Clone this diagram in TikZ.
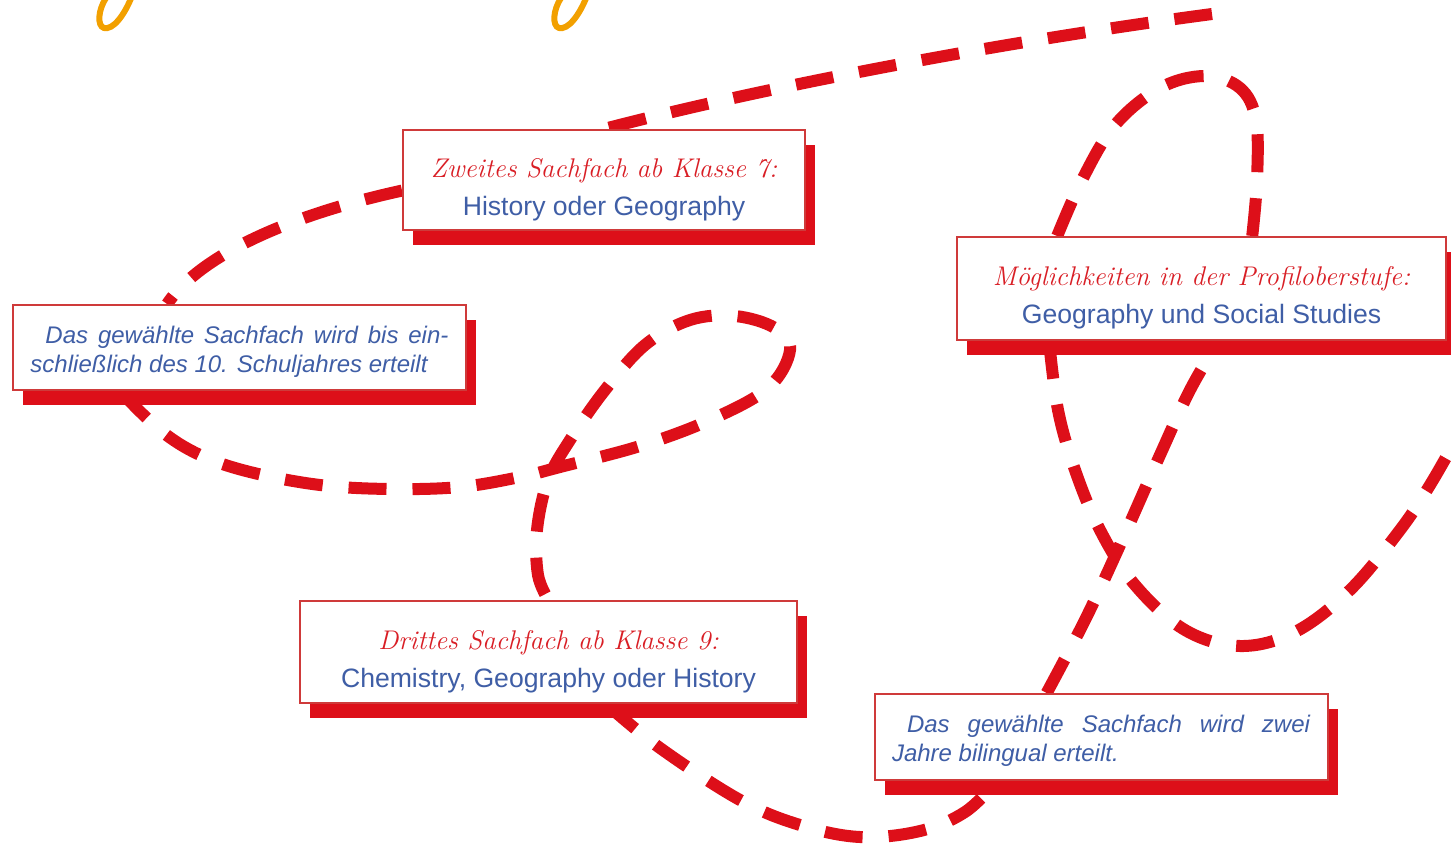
\documentclass[tikz,border=0pt]{standalone}
\usepackage{fontspec}
\newfontfamily\bodyfont{Liberation Sans}
\usetikzlibrary{shadows,backgrounds}
\definecolor{boxred}{HTML}{CF3A3A}
\definecolor{pathred}{HTML}{DD0F19}
\definecolor{headred}{HTML}{D91E25}
\definecolor{textblue}{HTML}{3F5EA6}
\definecolor{tailorange}{HTML}{F2A000}
\newcommand\sachhead[1]{{\color{headred}\rmfamily\itshape\fontsize{13.5}{19}\selectfont\rule{0pt}{19pt}#1}}

\begin{document}
\begin{tikzpicture}[x=0.5pt, y=-0.5pt,
	sachbox/.style={draw=boxred, line width=1pt, fill=white, inner sep=0pt, align=center,
		text=textblue, font=\bodyfont\fontsize{13.3}{19}\selectfont,
		general shadow={fill=pathred, shadow xshift=5pt, shadow yshift=-7.5pt}},
	notebox/.style={sachbox, text width=209pt, inner xsep=8.75pt, align=justify,
		font=\bodyfont\itshape\fontsize{12}{14.5}\selectfont},
	route/.style={draw=pathred, line width=6pt, dash pattern=on 19pt off 13pt},
	tail/.style={draw=tailorange, line width=3pt}]
	\useasboundingbox (0,0) rectangle (1451,846);
	\clip (0,0) rectangle (1451,846);
	
	% orange letter tails at the top edge
	\foreach \dx in {0, 455}{
		\draw[tail] ({\dx+132},-4) .. controls ({\dx+124},16) and ({\dx+113},30) .. ({\dx+104},28)
			.. controls ({\dx+97},26) and ({\dx+98},10) .. ({\dx+106},-2);
	}
	
	\node (zweites) at (604,180) [sachbox, minimum width=201pt, minimum height=50pt]
		{\sachhead{Zweites Sachfach ab Klasse 7:}\\ History oder Geography};
	\node (moegl) at (1201.5,288.5) [sachbox, minimum width=244.5pt, minimum height=51.5pt]
		{\sachhead{Möglichkeiten in der Profiloberstufe:}\\ Geography und Social Studies};
	\node (dritt) at (548.5,652) [sachbox, minimum width=248.5pt, minimum height=51pt]
		{\sachhead{Drittes Sachfach ab Klasse 9:}\\ Chemistry, Geography oder History};
	\node (lnote) at (239.5,347.5) [notebox, minimum height=42.5pt]
		{\rule{0pt}{12.5pt}\hspace*{7.5pt}Das gewählte Sachfach wird bis ein-\linebreak schließlich des 10. Schuljahres erteilt};
	\node (rnote) at (1101,737) [notebox, minimum height=43pt]
		{\rule{0pt}{12.5pt}\hspace*{7.5pt}Das gewählte Sachfach wird zwei\linebreak Jahre bilingual erteilt.};
	
	\coordinate (start) at (1212,14);
	\coordinate (finish) at (1458,436);
	
	\begin{scope}[on background layer]
		\clip (0,0) rectangle (1451,846);
		\draw[route] (start) .. controls (1000,42) and (760,88) .. (zweites.north);
		\draw[route] (zweites.183) .. controls (290,215) and (200,255) .. (lnote.149);
		\draw[route] plot[smooth, tension=0.6] coordinates {(lnote.200) (160,430) (200,455) (250,472)
			(320,485) (390,489) (460,487) (520,477) (560,467) (640,446) (710,420) (768,388)
			(790,350) (775,328) (735,316) (690,320) (645,345) (605,390) (570,440) (548,480)
			(537,530) (538,575) (dritt.north)};
		\draw[route] plot[smooth, tension=0.6] coordinates {(dritt.318) (660,748) (740,800)
			(800,825) (860,837) (920,831) (965,812) (rnote.203)};
		\draw[route] plot[smooth, tension=0.6] coordinates {(rnote.141) (1085,620) (1120,545)
			(1160,455) (1190,390) (moegl.288)};
		\draw[route] plot[smooth, tension=0.6] coordinates {(moegl.46) (1257,180) (1256,120)
			(1240,88) (1205,76) (1160,88) (1115,125) (1082,180) (moegl.160)};
		\draw[route] plot[smooth, tension=0.6] coordinates {(moegl.199) (1058,410) (1075,470)
			(1100,530) (1135,585) (1185,630) (1240,646) (1295,632) (1350,590) (1400,530)
			(1430,485) (finish)};
	\end{scope}
\end{tikzpicture}
\end{document}
